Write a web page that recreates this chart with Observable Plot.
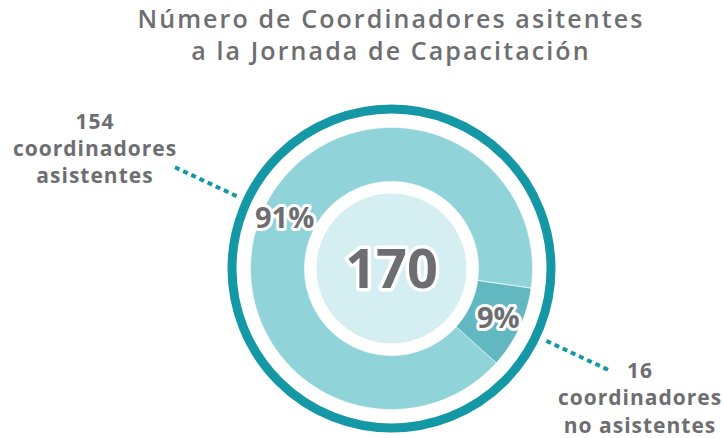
<!DOCTYPE html>
<html>
<head>
<meta charset="utf-8">
<script src="https://cdn.jsdelivr.net/npm/d3@7"></script>
<script src="https://cdn.jsdelivr.net/npm/@observablehq/plot@0.6"></script>
<style>
  html, body { margin: 0; padding: 0; background: #fff; }
  #wrap { position: relative; width: 724px; height: 438px; overflow: hidden; }
  #title {
    position: absolute; top: 2px; left: 0; width: 724px; box-sizing: border-box;
    padding-left: 58px; text-align: center;
    font-family: "Open Sans", sans-serif; font-weight: 600; font-size: 25px;
    letter-spacing: 2.1px;
    line-height: 32px; color: #6d6e71; z-index: 2;
  }
</style>
</head>
<body>
<div id="wrap">
  <div id="title">Número de Coordinadores asitentes<br>a la Jornada de Capacitación</div>
  <div id="chart"></div>
</div>
<script>
// ---- data ----
const categories = ["Coordinadores asistentes", "Coordinadores no asistentes"];
const counts = [154, 16];
const percentLabels = ["91%", "9%"];
const calloutLabels = ["154\ncoordinadores\nasistentes", "16\ncoordinadores\nno asistentes"];
const sliceColors = ["#90d4d9", "#63b7c0"];

// ---- geometry (styling) ----
const startDeg = 132;
const rOuter = 141, rInner = 87, rDisc = 75, rRing = 159.5;
const teal = "#1598a6", gray = "#6d6e71";
const total = d3.sum(counts);
const rad = d => d * Math.PI / 180;

const slicePoints = [];
const mids = [];
let a = startDeg;
categories.forEach((cat, i) => {
  const span = counts[i] / total * 360;
  const a0 = a, a1 = a + span;
  const n = Math.max(2, Math.ceil(span / 0.5));
  for (let k = 0; k <= n; k++) {
    const t = rad(a0 + (a1 - a0) * k / n);
    slicePoints.push({cat, x: rOuter * Math.sin(t), y: rOuter * Math.cos(t)});
  }
  for (let k = n; k >= 0; k--) {
    const t = rad(a0 + (a1 - a0) * k / n);
    slicePoints.push({cat, x: rInner * Math.sin(t), y: rInner * Math.cos(t)});
  }
  mids.push({cat, mid: rad((a0 + a1) / 2), pct: percentLabels[i], label: calloutLabels[i], i});
  a = a1;
});

const pctPos = mids.map(m => ({...m, x: 118 * Math.sin(m.mid), y: 118 * Math.cos(m.mid)}));
const leaders = mids.map(m => ({
  x1: 171 * Math.sin(m.mid), y1: 171 * Math.cos(m.mid),
  x2: 239 * Math.sin(m.mid), y2: 239 * Math.cos(m.mid)
}));
const ends = mids.map(m => ({...m, x: 239 * Math.sin(m.mid), y: 239 * Math.cos(m.mid)}));

const plot = Plot.plot({
  width: 724,
  height: 438,
  margin: 0,
  x: {domain: [-391, 333], axis: null},
  y: {domain: [-170, 268], axis: null},
  color: {domain: categories, range: sliceColors},
  style: {fontFamily: "'Open Sans', sans-serif", background: "transparent", overflow: "visible"},
  marks: [
    Plot.dot([{x: 0, y: 0}], {x: "x", y: "y", r: rRing, stroke: teal, strokeWidth: 9, fill: "none"}),
    Plot.line(slicePoints, {x: "x", y: "y", z: "cat", fill: "cat", stroke: "white", strokeWidth: 0.6, curve: "linear-closed"}),
    Plot.dot([{x: 0, y: 0}], {x: "x", y: "y", r: rDisc, fill: "#d5eef1"}),
    Plot.link(leaders, {x1: "x1", y1: "y1", x2: "x2", y2: "y2", stroke: teal, strokeWidth: 4, strokeDasharray: "5,4"}),
    Plot.text(pctPos, {x: "x", y: "y", text: "pct", fill: gray, stroke: "white", strokeWidth: 6, paintOrder: "stroke", strokeLinejoin: "round", fontSize: 29, fontWeight: 700}),
    Plot.text([{x: 0, y: 0}], {x: "x", y: "y", text: () => String(total), fill: gray, stroke: "white", strokeWidth: 7, paintOrder: "stroke", strokeLinejoin: "round", fontSize: 54, fontWeight: 700, dy: 2}),
    Plot.text(ends.filter(d => d.i === 0), {x: "x", y: "y", text: "label", fill: gray, fontSize: 21, fontWeight: 700, lineHeight: 1.3, dx: -80, dy: -20}),
    Plot.text(ends.filter(d => d.i === 1), {x: "x", y: "y", text: "label", fill: gray, fontSize: 21, fontWeight: 700, lineHeight: 1.3, dx: 32, dy: 27})
  ]
});
// slight tracking on the callout labels, as in the reference typeface
d3.select(plot).selectAll("text").filter(function() { return this.textContent.includes("coordinadores"); })
  .style("letter-spacing", "1px");
document.getElementById("chart").appendChild(plot);
</script>
</body>
</html>
